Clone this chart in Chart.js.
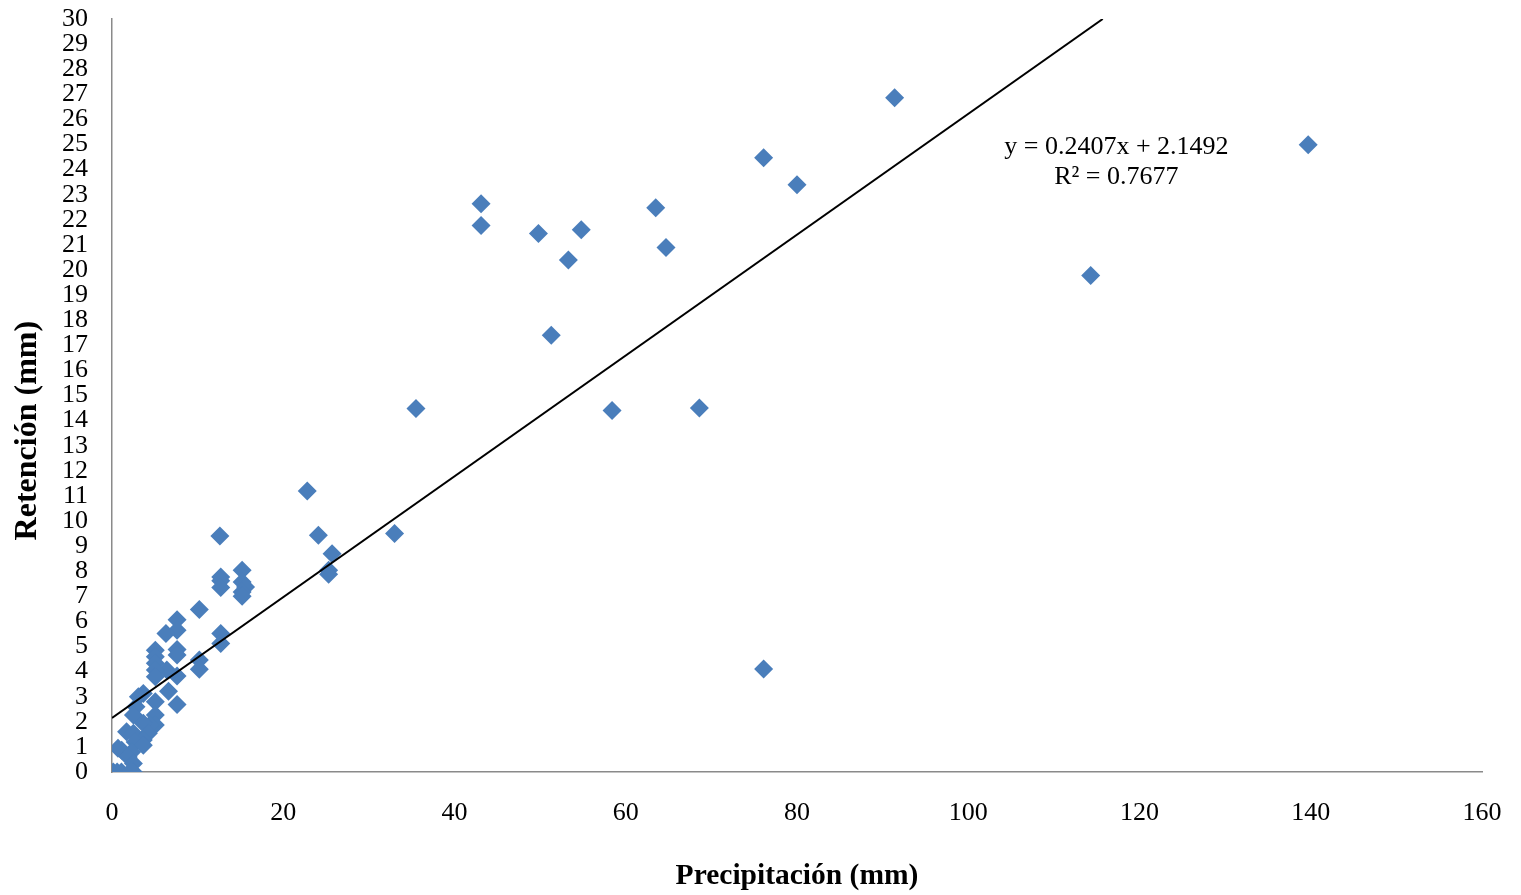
<!DOCTYPE html>
<html><head><meta charset="utf-8">
<script src="https://cdn.jsdelivr.net/npm/chart.js@4.4.0/dist/chart.umd.min.js"></script>
<style>html,body{margin:0;padding:0;background:#fff}#wrap{width:1521px;height:895px}</style>
</head><body><div id="wrap"><canvas id="c" width="1521" height="895"></canvas></div>
<script>
const precipitacion = [91.4,139.7,76.1,80.0,43.1,63.5,43.1,49.8,54.8,64.7,53.3,114.3,51.3,35.5,58.4,68.6,76.1,22.8,24.1,33.0,25.7,25.3,25.3,
 12.6,12.7,12.7,12.7,12.7,12.7,
 15.2,15.2,15.6,15.2,15.2,
 10.2,10.2,10.2,
 7.6,7.6,7.6,7.6,7.6,7.6,
 6.3,6.4,6.6,
 5.06,5.06,5.06,5.06,5.06,5.06,5.06,5.06,
 4.4,3.66,3.08,2.8,2.5,3.66,1.7,2.5,4.25,3.66,2.7,3.66,1.13,0.7,2.3,1.9,2.5,0.15,0.6,1.1,2.5,2.2];
const retencion = [26.86,24.99,24.47,23.4,22.64,22.48,21.77,21.45,21.6,20.9,20.4,19.78,17.4,14.48,14.4,14.5,4.1,11.2,9.43,9.5,8.7,8.04,7.88,
 9.4,7.77,7.62,7.35,5.52,5.12,
 8.04,7.57,7.37,7.17,7.0,
 6.47,4.46,4.09,
 6.07,5.65,4.88,4.66,3.82,2.69,
 5.52,4.06,3.22,
 4.85,4.59,4.33,4.06,3.79,2.8,2.27,1.87,
 1.87,3.13,3.0,2.6,2.27,1.94,1.6,1.54,1.54,1.27,1.2,1.07,0.87,0.95,0.8,0.6,0.34,0,0,0,0,0.04];
const xTicks = [0,20,40,60,80,100,120,140,160];
const trendSlope = 0.2407, trendIntercept = 2.1492, rSquared = 0.7677;
const trendX = [0, (30 - trendIntercept) / trendSlope];
const trendY = trendX.map(x => trendSlope * x + trendIntercept);
const xTitle = 'Precipitación (mm)', yTitle = 'Retención (mm)';

const points = precipitacion.map((x, i) => ({x, y: retencion[i]}));
const trend = trendX.map((x, i) => ({x, y: trendY[i]}));
const serif = "'Liberation Serif','Times New Roman',serif";

const textPlugin = {
  id: 'texts',
  afterDatasetsDraw(chart) {
    const {ctx, scales} = chart;
    const cx = scales.x.getPixelForValue(117.3);
    ctx.save();
    ctx.fillStyle = '#000';
    ctx.font = '26px ' + serif;
    ctx.textAlign = 'center';
    ctx.textBaseline = 'middle';
    ctx.fillText('y = ' + trendSlope + 'x + ' + trendIntercept, cx, scales.y.getPixelForValue(24.9));
    ctx.fillText('R² = ' + rSquared, cx, scales.y.getPixelForValue(23.68));
    // y axis title
    ctx.translate(28, scales.y.getPixelForValue(13.6));
    ctx.rotate(-Math.PI / 2);
    ctx.font = 'bold 32px ' + serif;
    ctx.fillText(yTitle, 0, 0);
    ctx.restore();
  }
};

new Chart(document.getElementById('c'), {
  type: 'scatter',
  data: { datasets: [
    { data: trend, type: 'line', showLine: true, borderColor: '#000', borderWidth: 2, pointRadius: 0, fill: false, order: 0 },
    { data: points, pointStyle: 'rectRot', pointRadius: 9.5, pointHoverRadius: 9.5, backgroundColor: '#4A7EBB', borderColor: '#4A7EBB', borderWidth: 0, order: 1 }
  ]},
  options: {
    responsive: false, animation: false, devicePixelRatio: 1,
    layout: { padding: { top: 19, right: 39, bottom: 0, left: 0 } },
    plugins: { legend: { display: false }, tooltip: { enabled: false } },
    scales: {
      x: {
        type: 'linear', min: 0, max: 160,
        afterFit(s) { s.height = 123; s.paddingLeft = 0; s.paddingRight = 0; },
        afterBuildTicks(s) { s.ticks = xTicks.map(v => ({value: v})); },
        grid: { display: false, drawTicks: false },
        border: { display: true, color: '#8a8a8a', width: 1.5 },
        ticks: { color: '#000', font: { family: serif, size: 26 }, padding: 26, maxRotation: 0 },
        title: { display: true, text: xTitle, color: '#000', font: { family: serif, size: 29.5, weight: 'bold' }, padding: { top: 0, bottom: 1 } }
      },
      y: {
        type: 'linear', min: 0, max: 30,
        afterFit(s) { s.width = 112; s.paddingTop = 0; s.paddingBottom = 0; },
        grid: { display: false, drawTicks: false },
        border: { display: true, color: '#8a8a8a', width: 1.5 },
        ticks: { stepSize: 1, autoSkip: false, color: '#000', font: { family: serif, size: 26 }, padding: 24 },
        title: { display: false }
      }
    }
  },
  plugins: [textPlugin]
});
</script></body></html>
